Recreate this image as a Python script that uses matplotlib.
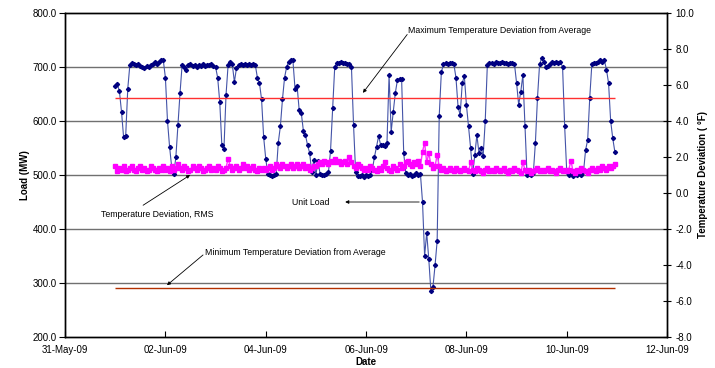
import matplotlib
matplotlib.use("Agg")
import matplotlib.pyplot as plt
import matplotlib.dates as mdates
import pandas as pd

plt.rcParams['font.family'] = ['Liberation Sans', 'DejaVu Sans']

# hourly readings, 1-Jun-09 00:00 .. 10-Jun-09 23:00
dates = pd.date_range('2009-06-01', periods=240, freq='h')

# Unit load (MW), one row per day
load = [
    665, 668, 655, 617, 570, 572, 660, 704, 708, 706, 704, 705, 702, 700, 698, 702, 700, 704, 706, 709, 705, 710, 712, 712,
    680, 600, 552, 515, 502, 533, 593, 652, 704, 700, 695, 703, 705, 702, 704, 700, 703, 702, 705, 701, 704, 703, 706, 702,
    700, 680, 635, 555, 548, 648, 704, 709, 705, 672, 698, 703, 705, 703, 706, 704, 705, 703, 706, 704, 680, 670, 640, 570,
    530, 502, 500, 498, 500, 502, 560, 590, 640, 680, 700, 710, 713, 712, 660, 665, 620, 615, 582, 574, 555, 541, 505, 528,
    500, 525, 502, 500, 500, 502, 505, 545, 624, 700, 707, 708, 710, 707, 708, 706, 705, 700, 593, 505, 498, 499, 500, 497,
    500, 498, 500, 510, 533, 552, 572, 555, 556, 554, 560, 685, 580, 617, 652, 676, 678, 678, 540, 504, 500, 502, 499, 500,
    503, 500, 502, 450, 350, 393, 344, 285, 293, 333, 378, 610, 690, 705, 707, 706, 708, 707, 705, 680, 626, 611, 670, 683,
    630, 590, 550, 502, 537, 574, 541, 550, 535, 600, 703, 707, 708, 706, 709, 707, 708, 709, 707, 708, 706, 708, 707, 705,
    670, 630, 654, 685, 590, 500, 502, 500, 503, 560, 643, 705, 716, 709, 700, 701, 706, 709, 708, 710, 708, 709, 700, 590,
    505, 500, 502, 499, 501, 500, 503, 500, 505, 546, 565, 643, 705, 707, 708, 710, 713, 709, 712, 695, 670, 600, 568, 543,
]

# Temperature deviation, RMS (degF)
rms = [
    1.5, 1.2, 1.4, 1.3, 1.5, 1.2, 1.3, 1.4, 1.5, 1.3, 1.2, 1.4, 1.5, 1.3, 1.4, 1.2, 1.3, 1.5, 1.4, 1.3, 1.2, 1.4, 1.3, 1.5,
    1.3, 1.4, 1.2, 1.5, 1.3, 1.4, 1.6, 1.4, 1.3, 1.5, 1.4, 1.2, 1.3, 1.5, 1.4, 1.3, 1.5, 1.4, 1.2, 1.3, 1.4, 1.5, 1.3, 1.4,
    1.3, 1.5, 1.4, 1.2, 1.3, 1.4, 1.9, 1.5, 1.3, 1.4, 1.5, 1.3, 1.4, 1.6, 1.4, 1.5, 1.3, 1.4, 1.5, 1.3, 1.2, 1.4, 1.3, 1.4,
    1.3, 1.4, 1.5, 1.3, 1.4, 1.6, 1.5, 1.4, 1.6, 1.5, 1.4, 1.5, 1.6, 1.4, 1.5, 1.6, 1.4, 1.5, 1.6, 1.4, 1.5, 1.3, 1.4, 1.5,
    1.5, 1.6, 1.7, 1.6, 1.8, 1.7, 1.6, 1.8, 1.7, 1.9, 1.7, 1.8, 1.6, 1.7, 1.8, 1.6, 2.0, 1.7, 1.5, 1.4, 1.6, 1.5, 1.4, 1.3,
    1.4, 1.3, 1.5, 1.4, 1.3, 1.2, 1.4, 1.3, 1.5, 1.7, 1.4, 1.3, 1.2, 1.5, 1.4, 1.3, 1.6, 1.4, 1.5, 1.7, 1.8, 1.6, 1.5, 1.7,
    1.6, 1.8, 1.5, 2.3, 2.8, 1.7, 2.2, 1.6, 1.4, 1.5, 2.1, 1.5, 1.3, 1.4, 1.2, 1.3, 1.4, 1.3, 1.2, 1.4, 1.3, 1.2, 1.3, 1.4,
    1.3, 1.2, 1.7, 1.3, 1.2, 1.4, 1.3, 1.2, 1.1, 1.3, 1.4, 1.2, 1.3, 1.2, 1.4, 1.3, 1.2, 1.3, 1.4, 1.2, 1.1, 1.3, 1.2, 1.4,
    1.3, 1.2, 1.1, 1.7, 1.3, 1.2, 1.3, 1.1, 1.2, 1.3, 1.4, 1.2, 1.3, 1.2, 1.3, 1.4, 1.2, 1.3, 1.2, 1.1, 1.3, 1.4, 1.2, 1.3,
    1.2, 1.3, 1.8, 1.2, 1.1, 1.3, 1.2, 1.4, 1.3, 1.2, 1.1, 1.3, 1.4, 1.3, 1.2, 1.4, 1.3, 1.5, 1.4, 1.3, 1.5, 1.4, 1.5, 1.6,
]

max_dev = 5.3
min_dev = -5.3

fig = plt.figure(figsize=(7.15, 3.68), dpi=100)
ax = fig.add_axes([0.091, 0.084, 0.842, 0.881])
ax2 = ax.twinx()

ax.set_xlim(pd.Timestamp('2009-05-31'), pd.Timestamp('2009-06-12'))
ax.set_ylim(200, 800)
ax.set_yticks(range(200, 801, 100))
ax.yaxis.set_major_formatter(matplotlib.ticker.FormatStrFormatter('%.1f'))
ax.xaxis.set_major_locator(mdates.DayLocator(interval=2))
ax.xaxis.set_major_formatter(mdates.DateFormatter('%d-%b-%y'))
for y in range(300, 800, 100):
    ax.axhline(y, color='#707070', lw=1.0, zorder=0)

ax.plot(dates, load, color='#4454a8', lw=0.8, marker='D', ms=2.1,
        mfc='#000080', mec='#000080', zorder=3)

ax2.set_ylim(-8, 10)
ax2.set_yticks(range(-8, 11, 2))
ax2.yaxis.set_major_formatter(matplotlib.ticker.FormatStrFormatter('%.1f'))
ax2.plot(dates, rms, color='#FF33FF', lw=1.0, marker='s', ms=2.6,
         mfc='#FF00FF', mec='#FF00FF', zorder=3)
ax2.hlines(max_dev, dates[0], dates[-1], color='#FF3030', lw=1.0)
ax2.hlines(min_dev, dates[0], dates[-1], color='#B33000', lw=1.0)

for a in (ax, ax2):
    for s in a.spines.values():
        s.set_color('black')
        s.set_linewidth(1.0)
ax.tick_params(axis='y', direction='out', length=4, labelsize=7, pad=2)
ax.tick_params(axis='x', direction='in', length=4, labelsize=7, pad=6)
ax2.tick_params(axis='y', direction='inout', length=6, labelsize=7, pad=3)

ax.set_xlabel('Date', fontsize=7, fontweight='bold', labelpad=1)
ax.set_ylabel('Load (MW)', fontsize=7, fontweight='bold', labelpad=2)
ax2.set_ylabel('Temperature Deviation ( °F)', fontsize=7, fontweight='bold', labelpad=3)

arrow = dict(arrowstyle='-|>', color='black', lw=0.6, mutation_scale=5, shrinkA=0, shrinkB=0)
T = pd.Timestamp
fs = 6.3

ax.text(T('2009-06-06 20:10'), 768, 'Maximum Temperature Deviation from Average', fontsize=fs, va='center')
ax.annotate('', xy=(T('2009-06-05 22:30'), 652), xytext=(T('2009-06-06 19:40'), 760), arrowprops=arrow)

ax.text(T('2009-05-31 17:15'), 426, 'Temperature Deviation, RMS', fontsize=fs, va='center')
ax.annotate('', xy=(T('2009-06-02 11:50'), 500), xytext=(T('2009-06-01 13:20'), 444), arrowprops=arrow)

ax.text(T('2009-06-04 12:30'), 450, 'Unit Load', fontsize=fs, va='center')
ax.annotate('', xy=(T('2009-06-05 14:00'), 450), xytext=(T('2009-06-07 01:25'), 450), arrowprops=arrow)

ax.text(T('2009-06-02 19:00'), 356, 'Minimum Temperature Deviation from Average', fontsize=fs, va='center')
ax.annotate('', xy=(T('2009-06-02 00:45'), 296), xytext=(T('2009-06-02 18:00'), 352), arrowprops=arrow)

fig.savefig('out.png', dpi=100)
